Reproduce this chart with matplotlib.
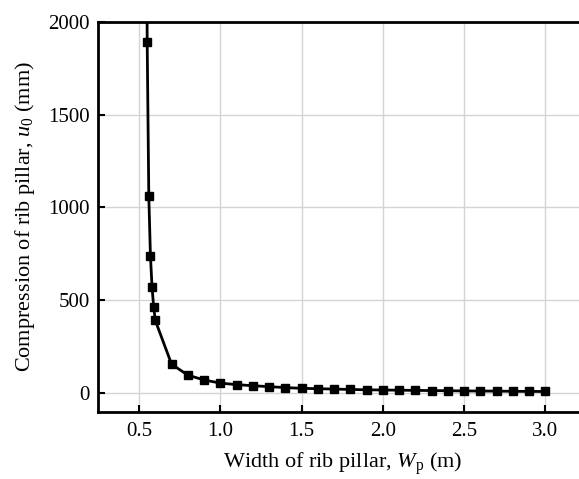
import matplotlib
matplotlib.use("Agg")
import matplotlib.pyplot as plt

plt.rcParams["font.family"] = "Liberation Serif"
plt.rcParams["mathtext.fontset"] = "custom"
plt.rcParams["mathtext.rm"] = "Liberation Serif"
plt.rcParams["mathtext.it"] = "Liberation Serif:italic"

# ── Data: pillar width (m) vs. compression (mm) ───────────────────────────────
width_m = [0.54, 0.55, 0.56, 0.57, 0.58, 0.59, 0.60, 0.70, 0.80, 0.90,
           1.0, 1.1, 1.2, 1.3, 1.4, 1.5, 1.6, 1.7, 1.8, 1.9,
           2.0, 2.1, 2.2, 2.3, 2.4, 2.5, 2.6, 2.7, 2.8, 2.9, 3.0]
compression_mm = [4500, 1890, 1060, 740, 570, 465, 392, 157, 98, 72,
                  55, 47, 41, 36, 31, 27, 25, 23, 21, 19,
                  18, 17, 16, 15, 14, 13, 12.5, 12, 11, 10.5, 10]

x_ticks = [0.5, 1.0, 1.5, 2.0, 2.5, 3.0]
y_ticks = [0, 500, 1000, 1500, 2000]

fig = plt.figure(figsize=(5.79, 4.79), dpi=100)
ax = fig.add_axes([0.170, 0.140, 0.842, 0.815])

ax.plot(width_m, compression_mm, color="black", lw=2.0, marker="s",
        markersize=6, zorder=3)

ax.set_xlim(0.25, 3.25)
ax.set_ylim(-100, 2000)
ax.set_xticks(x_ticks)
ax.set_yticks(y_ticks)
ax.set_xticklabels([f"{t:.1f}" for t in x_ticks])

ax.grid(True, color="#d4d4d4", lw=1.0, zorder=0)
ax.set_axisbelow(True)

for s in ax.spines.values():
    s.set_linewidth(2.0)

ax.tick_params(axis="x", direction="in", length=5, width=1.5, labelsize=15, pad=7)
ax.tick_params(axis="y", direction="in", length=5, width=1.5, labelsize=15, pad=6)

ax.set_xlabel(r"Width of rib pillar, $\mathit{W}_\mathrm{p}$ (m)", fontsize=16, labelpad=7)
ax.set_ylabel(r"Compression of rib pillar, $\mathit{u}_0$ (mm)", fontsize=16, labelpad=8)

fig.savefig("out.png", dpi=100)
